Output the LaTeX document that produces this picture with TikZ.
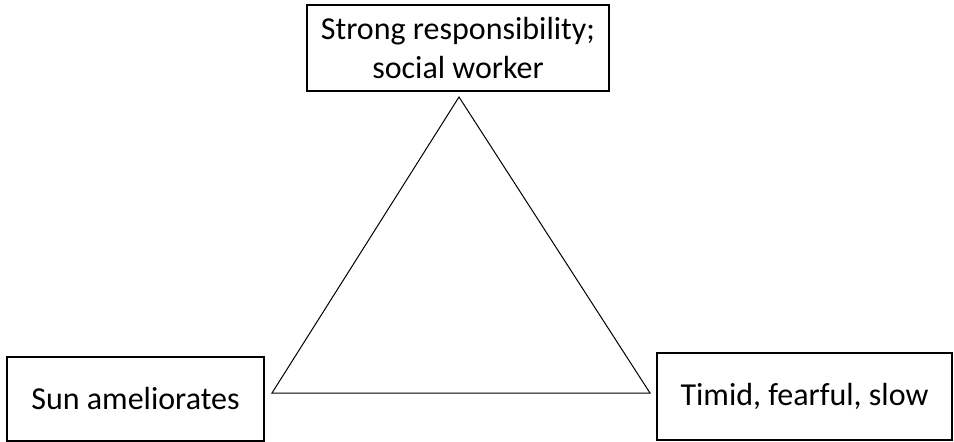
\documentclass[tikz,border=0pt]{standalone}
\usepackage{fontspec}
\setmainfont{Carlito}
\begin{document}
\begin{tikzpicture}[x=1pt,y=-1pt,every node/.style={font=\fontsize{32}{39}\selectfont},
  box/.style={draw,line width=1.6pt,inner sep=0pt,align=center}]
  \useasboundingbox (0,0) rectangle (954,442);
  \node[box,minimum width=302pt,minimum height=86pt] (resp) at (458,48) {Strong responsibility;\\social worker};
  \node[box,minimum width=257pt,minimum height=84pt] (sun) at (135.5,399) {Sun ameliorates};
  \node[box,minimum width=295pt,minimum height=87pt] (timid) at (804.5,396.5) {Timid, fearful, slow};
  \coordinate (apex) at (459,97);
  \coordinate (left) at (272,393);
  \coordinate (right) at (650,393);
  \draw[line width=1pt] (apex) -- (left) -- (right) -- cycle;
\end{tikzpicture}
\end{document}
